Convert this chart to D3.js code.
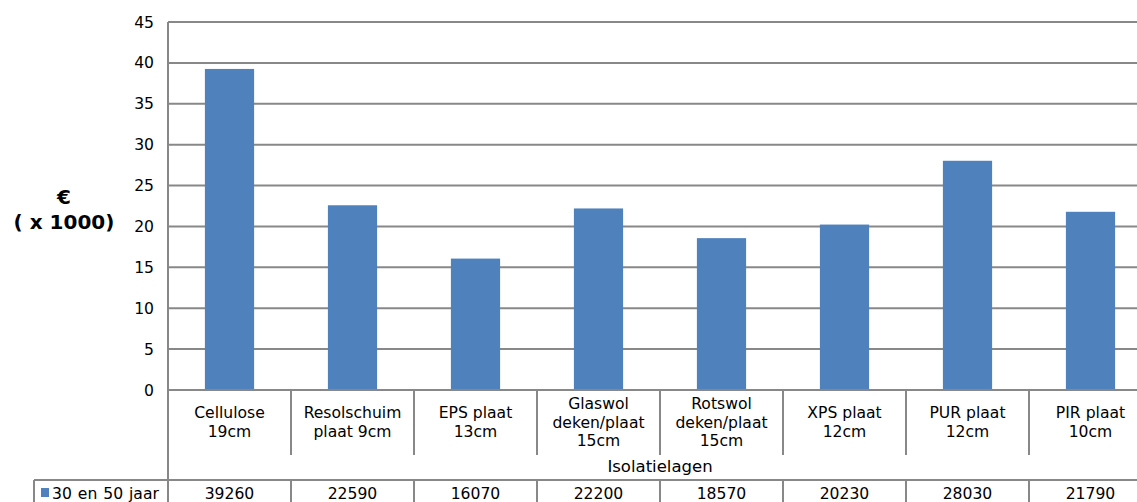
<!DOCTYPE html>
<html>
<head>
<meta charset="utf-8">
<script src="https://cdn.jsdelivr.net/npm/d3@7"></script>
<style>
  html, body { margin: 0; padding: 0; background: #fff; }
  svg { display: block; font-family: "DejaVu Sans", Verdana, sans-serif; }
</style>
</head>
<body>
<svg id="chart" width="1137" height="502"></svg>
<script>
// Insulation cost per material (euro), series "30 en 50 jaar"
const categories = [
  "Cellulose\n19cm",
  "Resolschuim\nplaat 9cm",
  "EPS plaat\n13cm",
  "Glaswol\ndeken/plaat\n15cm",
  "Rotswol\ndeken/plaat\n15cm",
  "XPS plaat\n12cm",
  "PUR plaat\n12cm",
  "PIR plaat\n10cm"
];
const seriesName = "30 en 50 jaar";
const values = [39260, 22590, 16070, 22200, 18570, 20230, 28030, 21790];
const yTicks = [0, 5, 10, 15, 20, 25, 30, 35, 40, 45];
const axisTitleLines = ["€", "( x 1000)"];
const xAxisTitle = "Isolatielagen";

const svg = d3.select("#chart");
const W = 1137;
const plotLeft = 168, plotRight = 1152, plotTop = 22, plotBottom = 390;
const gridColor = "#888888";
const barColor = "#4F81BD";
const fs = 15.6;

const y = d3.scaleLinear().domain([0, 45]).range([plotBottom, plotTop]);
const cell = d3.scaleBand().domain(categories).range([plotLeft, plotRight]).padding(0);
const xBar = d3.scaleBand().domain(categories).range([plotLeft, plotRight])
  .paddingInner(0.6).paddingOuter(0.3);

// horizontal gridlines
svg.append("g").selectAll("line").data(yTicks.filter(t => t > 0)).join("line")
  .attr("x1", plotLeft).attr("x2", W)
  .attr("y1", d => y(d)).attr("y2", d => y(d))
  .attr("stroke", gridColor).attr("stroke-width", 2);

// y axis labels
const yAxis = d3.axisLeft(y).tickValues(yTicks).tickSize(0).tickPadding(14);
const gy = svg.append("g").attr("transform", `translate(${plotLeft},0)`).call(yAxis);
gy.select(".domain").remove();
gy.selectAll("text").attr("font-size", fs).attr("fill", "#000")
  .attr("font-family", "DejaVu Sans, Verdana, sans-serif");

// bars
svg.append("g").selectAll("rect").data(values).join("rect")
  .attr("x", (d, i) => xBar(categories[i]))
  .attr("width", xBar.bandwidth())
  .attr("y", d => y(d / 1000))
  .attr("height", d => y(0) - y(d / 1000))
  .attr("fill", barColor);

// axis lines
svg.append("line").attr("x1", plotLeft).attr("x2", plotLeft).attr("y1", plotTop).attr("y2", 502)
  .attr("stroke", gridColor).attr("stroke-width", 2);
svg.append("line").attr("x1", plotLeft).attr("x2", W).attr("y1", plotBottom).attr("y2", plotBottom)
  .attr("stroke", gridColor).attr("stroke-width", 2);

// category separators
const bounds = categories.slice(1).map(c => cell(c));
svg.append("g").selectAll("line").data(bounds).join("line")
  .attr("x1", d => d).attr("x2", d => d)
  .attr("y1", plotBottom).attr("y2", 455)
  .attr("stroke", gridColor).attr("stroke-width", 2);

// category labels
const lh = 18.5;
const labels = svg.append("g").attr("font-size", fs).attr("fill", "#000");
categories.forEach(c => {
  const lines = c.split("\n");
  const cx = cell(c) + cell.bandwidth() / 2;
  const t = labels.append("text").attr("text-anchor", "middle");
  lines.forEach((ln, j) => {
    t.append("tspan").attr("x", cx)
      .attr("y", 422 + (j - (lines.length - 1) / 2) * lh)
      .attr("dy", "0.36em").text(ln);
  });
});

// x axis title
svg.append("text").attr("x", (plotLeft + plotRight) / 2).attr("y", 466).attr("dy", "0.36em")
  .attr("text-anchor", "middle").attr("font-size", 16.5).text(xAxisTitle);

// y axis title
const yt = svg.append("text").attr("text-anchor", "middle")
  .attr("font-size", 20).attr("font-weight", "bold");
axisTitleLines.forEach((ln, j) => {
  yt.append("tspan").attr("x", 64).attr("y", 197 + j * 25).attr("dy", "0.36em").text(ln);
});

// data table row
const rowTop = 480;
svg.append("line").attr("x1", 34).attr("x2", W).attr("y1", rowTop).attr("y2", rowTop)
  .attr("stroke", gridColor).attr("stroke-width", 2);
svg.append("line").attr("x1", 34).attr("x2", 34).attr("y1", rowTop).attr("y2", 502)
  .attr("stroke", gridColor).attr("stroke-width", 2);
svg.append("g").selectAll("line").data(bounds).join("line")
  .attr("x1", d => d).attr("x2", d => d)
  .attr("y1", rowTop).attr("y2", 502)
  .attr("stroke", gridColor).attr("stroke-width", 2);

svg.append("rect").attr("x", 41).attr("y", 488).attr("width", 8).attr("height", 9)
  .attr("fill", barColor);
svg.append("text").attr("x", 52).attr("y", 493).attr("dy", "0.36em")
  .attr("font-size", fs).attr("word-spacing", 1).text(seriesName);

svg.append("g").selectAll("text").data(values).join("text")
  .attr("x", (d, i) => cell(categories[i]) + cell.bandwidth() / 2)
  .attr("y", 493).attr("dy", "0.36em")
  .attr("text-anchor", "middle").attr("font-size", fs)
  .text(d => d);
</script>
</body>
</html>
